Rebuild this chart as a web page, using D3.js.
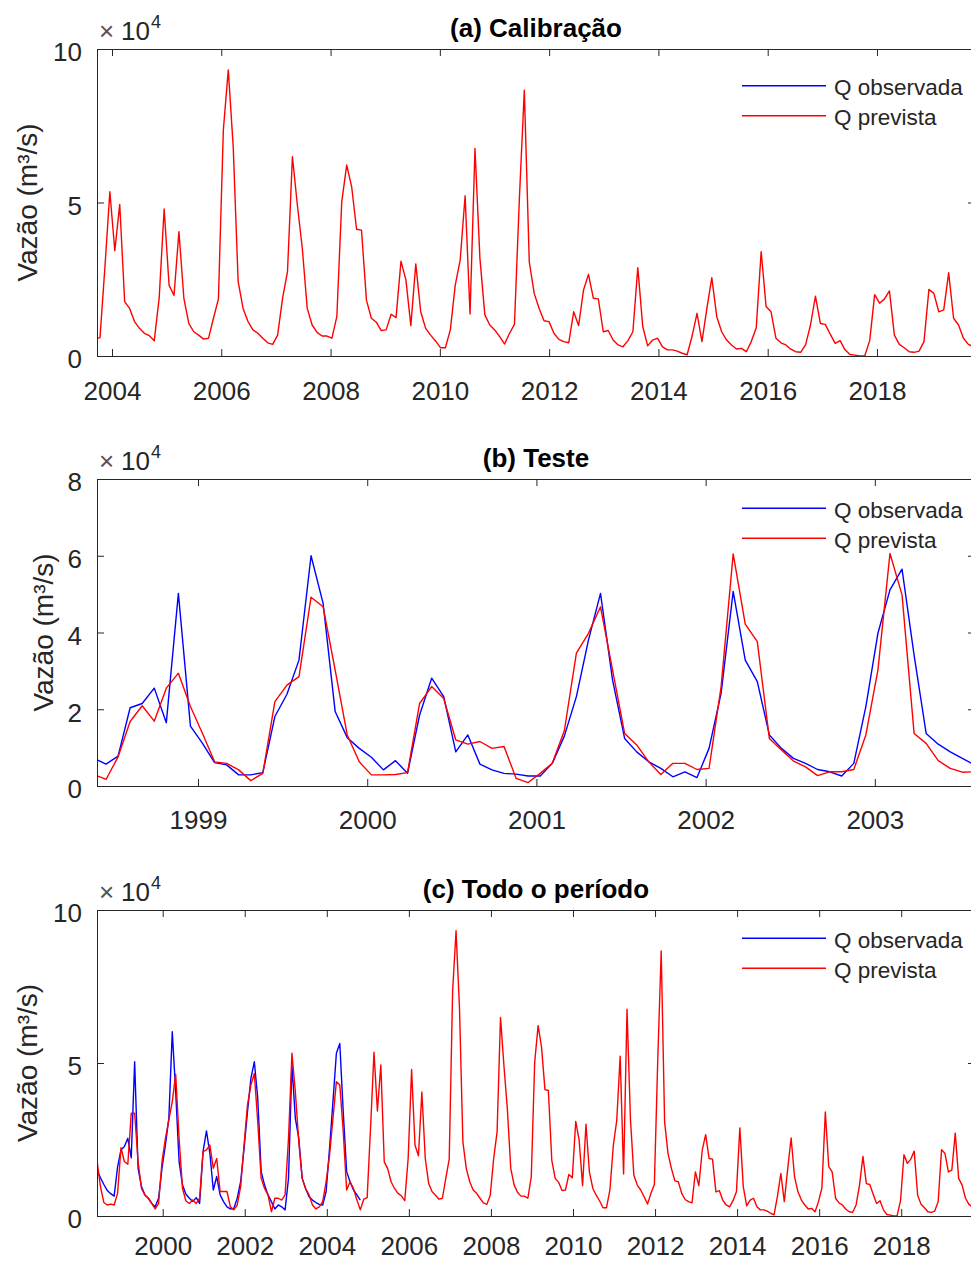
<!DOCTYPE html>
<html>
<head>
<meta charset="utf-8">
<script src="https://cdn.jsdelivr.net/npm/d3@7"></script>
<style>
  html, body { margin: 0; padding: 0; background: #fff; overflow: hidden; }
  svg { display: block; }
</style>
</head>
<body>
<script>
// values in units of 10^4 m3/s

// (a) calibration, predicted flow (observed is hidden under it)
const calibPred = [
  0.55, 0.6, 2.9, 5.35, 3.43, 4.94, 1.77, 1.55, 1.12, 0.9,
  0.74, 0.66, 0.5, 1.9, 4.79, 2.31, 1.97, 4.05, 1.88, 1.06,
  0.79, 0.68, 0.55, 0.58, 1.23, 1.86, 7.36, 9.32, 6.82, 2.42,
  1.55, 1.12, 0.85, 0.74, 0.58, 0.43, 0.38, 0.68, 1.88, 2.75,
  6.49, 4.92, 3.51, 1.55, 1.01, 0.77, 0.65, 0.65, 0.58, 1.28,
  5.03, 6.22, 5.52, 4.13, 4.1, 1.82, 1.23, 1.1, 0.83, 0.85,
  1.36,
  1.25, 3.09, 2.48, 0.99, 3.0, 1.44, 0.9, 0.68, 0.49, 0.27,
  0.27, 0.85, 2.31, 3.13, 5.22, 1.37, 6.76, 3.18, 1.34, 1.01,
  0.85, 0.63, 0.39, 0.74, 1.03, 5.14, 8.66, 3.07, 2.04, 1.55,
  1.15, 1.12, 0.74, 0.54, 0.47, 0.43, 1.44, 0.99, 2.15, 2.66,
  1.88, 1.86, 0.79, 0.83, 0.52, 0.36, 0.3, 0.5, 0.79, 2.88,
  0.96, 0.33, 0.52, 0.58, 0.3, 0.2, 0.2, 0.16,
  0.09, 0.04, 0.65,
  1.39, 0.47, 1.55, 2.55, 1.28, 0.79, 0.52, 0.36, 0.23, 0.25,
  0.14, 0.47, 0.92, 3.4, 1.61, 1.44, 0.58, 0.43, 0.36, 0.22,
  0.14, 0.12, 0.36, 1.01, 1.95, 1.06, 1.03, 0.71, 0.41, 0.5,
  0.2, 0.05, 0.03, 0.0, 0.01, 0.5, 2.0, 1.72, 1.86, 2.12,
  0.68, 0.38, 0.27, 0.14, 0.12, 0.16, 0.47, 2.17, 2.04, 1.44,
  1.5, 2.71, 1.23, 1.01, 0.58, 0.38, 0.3
];

// (b) test period
const testObs = [
  0.72, 0.57, 0.78, 2.04, 2.15, 2.55, 1.65, 5.02, 1.56, 1.11,
  0.61, 0.55, 0.29, 0.29, 0.35, 1.81, 2.39, 3.28, 6.0, 4.76,
  1.94, 1.26, 0.98, 0.75, 0.42, 0.66, 0.33, 1.85, 2.81, 2.33,
  0.89, 1.33, 0.57, 0.42, 0.33, 0.31, 0.26, 0.26, 0.59, 1.3,
  2.33, 3.8, 5.02, 2.76, 1.24, 0.89, 0.63, 0.46, 0.24, 0.37,
  0.22, 0.98, 2.42, 5.07, 3.28, 2.72, 1.33, 0.98, 0.72, 0.59,
  0.43, 0.37, 0.26, 0.59, 2.07, 3.98, 5.11, 5.65, 3.41, 1.37,
  1.09, 0.89, 0.72, 0.55
];
const testPred = [
  0.3, 0.17, 0.76, 1.68, 2.09, 1.69, 2.55, 2.94, 2.07, 1.37,
  0.63, 0.59, 0.42, 0.14, 0.33, 2.2, 2.63, 2.85, 4.92, 4.67,
  3.02, 1.33, 0.63, 0.29, 0.29, 0.3, 0.35, 2.15, 2.59, 2.28,
  1.2, 1.09, 1.16, 0.98, 1.03, 0.2, 0.09, 0.33, 0.59, 1.44,
  3.46, 3.98, 4.67, 3.02, 1.37, 1.07, 0.63, 0.3, 0.59, 0.59,
  0.43, 0.46, 2.59, 6.05, 4.22, 3.76, 1.24, 0.94, 0.65, 0.5,
  0.27, 0.37, 0.37, 0.43, 1.33, 3.02, 6.06, 4.98, 1.37, 1.11,
  0.66, 0.46, 0.36, 0.37
];

// (c) whole period: first part with observations, then the calibration run
const fullObs = [
  1.5, 1.25, 1.03, 0.83, 0.73, 0.65, 1.6, 2.16, 2.27, 2.54,
  1.9, 5.04, 1.56, 0.96, 0.69, 0.58, 0.41, 0.3, 0.58, 1.56,
  2.32, 3.19, 6.02, 4.06, 1.78, 1.01, 0.71, 0.58, 0.47, 0.6,
  0.41, 2.1, 2.78, 2.05, 0.85, 1.29, 0.69, 0.47, 0.3, 0.23,
  0.25, 0.58, 1.12, 2.21, 3.41, 4.5, 5.04, 3.85, 1.45, 1.01,
  0.69, 0.47, 0.23, 0.36, 0.3, 0.2, 1.23, 4.93, 3.19, 2.54,
  1.23, 0.9, 0.63, 0.52, 0.44, 0.38, 0.36, 0.8, 2.21, 3.74,
  5.32, 5.64, 3.41, 1.45, 1.12, 0.85, 0.69, 0.52
];
const fullTestPred = [
  1.8, 0.96, 0.44, 0.36, 0.39, 0.36, 0.74, 2.23, 1.78, 1.69,
  3.36, 3.36, 1.78, 0.9, 0.69, 0.58, 0.41, 0.23, 0.41, 1.78,
  2.54, 3.14, 3.74, 4.63, 2.54, 0.9, 0.49, 0.41, 0.52, 0.41,
  0.58, 2.1, 2.16, 2.32, 1.56, 1.88, 0.8, 0.8, 0.8, 0.3,
  0.2, 0.36, 0.96, 2.32, 3.63, 4.28, 4.66, 3.08, 1.23, 0.9,
  0.69, 0.14, 0.58, 0.58, 0.52, 0.69, 2.54, 5.32, 4.06, 2.43,
  1.23, 0.9, 0.69, 0.36, 0.23, 0.3, 0.47, 1.12, 1.99, 3.19,
  4.39, 4.28, 2.76, 0.85, 1.12, 0.9, 0.52, 0.2
];
const fullPred = fullTestPred.concat(calibPred);

// tick labels
const ticksA = [2004, 2006, 2008, 2010, 2012, 2014, 2016, 2018];
const ticksB = [1999, 2000, 2001, 2002, 2003];
const ticksC = [2000, 2002, 2004, 2006, 2008, 2010, 2012, 2014, 2016, 2018];
const legendNames = ["Q observada", "Q prevista"];

const W = 971, H = 1262;
const left = 97, right = 975;
const ink = "#262626";
const blue = "#0000ff", red = "#ff0000";

const svg = d3.select("body").append("svg")
    .attr("width", W).attr("height", H)
    .attr("font-family", '"Liberation Sans", Arial, Helvetica, sans-serif');

const panels = [
  {id: "a", title: "(a) Calibração", top: 49, bottom: 356,
   xDomain: [2003.7255, 2019.794], xTicks: ticksA, yMax: 10, yTicks: [0, 5, 10],
   labelX: 37, legendTop: 36.7, xPad: 26,
   series: [{values: calibPred, start: 2003.69, step: 0.0903, color: red}]},
  {id: "b", title: "(b) Teste", top: 479, bottom: 786,
   xDomain: [1998.403, 2003.592], xTicks: ticksB, yMax: 8, yTicks: [0, 2, 4, 6, 8],
   labelX: 53, legendTop: 29.3, xPad: 25,
   series: [{values: testObs, start: 1998.385, step: 0.07128, color: blue},
            {values: testPred, start: 1998.385, step: 0.07128, color: red}]},
  {id: "c", title: "(c) Todo o período", top: 910, bottom: 1216,
   xDomain: [1998.399, 2019.798], xTicks: ticksC, yMax: 10, yTicks: [0, 5, 10],
   labelX: 37, legendTop: 28.3, xPad: 21,
   series: [{values: fullObs, start: 1998.40, step: 1 / 12, color: blue},
            {values: fullPred, start: 1998.40, step: 1 / 12, color: red}]}
];

function styleAxis(sel) {
  sel.select(".domain").remove();
  sel.selectAll(".tick line").attr("stroke", ink).attr("stroke-width", 1);
  sel.selectAll(".tick text").attr("fill", ink).attr("font-size", 26);
}

panels.forEach(p => {
  const x = d3.scaleLinear().domain(p.xDomain).range([left, right]);
  const y = d3.scaleLinear().domain([0, p.yMax]).range([p.bottom, p.top]);
  const g = svg.append("g");

  g.append("clipPath").attr("id", "clip-" + p.id)
    .append("rect")
      .attr("x", left).attr("y", p.top)
      .attr("width", right - left).attr("height", p.bottom - p.top);

  const plot = g.append("g").attr("clip-path", `url(#clip-${p.id})`);
  p.series.forEach(s => {
    const line = d3.line()
        .x((d, i) => x(s.start + i * s.step))
        .y(d => y(d));
    plot.append("path")
        .datum(s.values)
        .attr("fill", "none")
        .attr("stroke", s.color)
        .attr("stroke-width", 1.4)
        .attr("stroke-linejoin", "round")
        .attr("d", line);
  });

  // axes with inward ticks on all four sides
  g.append("g").attr("transform", `translate(0,${p.bottom})`)
      .call(d3.axisBottom(x).tickValues(p.xTicks).tickFormat(d3.format("d"))
              .tickSizeInner(-7).tickSizeOuter(0).tickPadding(p.xPad))
      .call(styleAxis);
  g.append("g").attr("transform", `translate(0,${p.top})`)
      .call(d3.axisTop(x).tickValues(p.xTicks).tickFormat("")
              .tickSizeInner(-7).tickSizeOuter(0))
      .call(styleAxis);
  g.append("g").attr("transform", `translate(${left},0)`)
      .call(d3.axisLeft(y).tickValues(p.yTicks).tickFormat(d3.format("d"))
              .tickSizeInner(-7).tickSizeOuter(0).tickPadding(15))
      .call(styleAxis)
      .call(a => a.selectAll(".tick text").attr("dy", "0.46em"));
  g.append("g").attr("transform", `translate(${right},0)`)
      .call(d3.axisRight(y).tickValues(p.yTicks).tickFormat("")
              .tickSizeInner(-7).tickSizeOuter(0))
      .call(styleAxis);

  g.append("rect")
      .attr("x", left + 0.5).attr("y", p.top + 0.5)
      .attr("width", right - left).attr("height", p.bottom - p.top)
      .attr("fill", "none").attr("stroke", ink).attr("stroke-width", 1);

  // exponent label
  const ex = g.append("text").attr("y", p.top - 9).attr("fill", ink).attr("font-size", 26);
  ex.append("tspan").attr("x", left + 2).attr("fill", "#555").text("×");
  ex.append("tspan").attr("x", left + 24).text("10");
  ex.append("tspan").attr("x", left + 54).attr("dy", -12).attr("font-size", 18).text("4");

  // title
  g.append("text")
      .attr("x", (left + right) / 2).attr("y", p.top - 12)
      .attr("text-anchor", "middle")
      .attr("font-size", 26).attr("font-weight", "bold").attr("fill", "#000")
      .text(p.title);

  // y label
  g.append("text")
      .attr("transform", `translate(${p.labelX},${(p.top + p.bottom) / 2}) rotate(-90)`)
      .attr("text-anchor", "middle")
      .attr("font-size", 28).attr("fill", ink)
      .text("Vazão (m³/s)");

  // legend, no box
  const lg = g.append("g").attr("transform", `translate(742,${p.top + p.legendTop})`);
  [blue, red].forEach((c, i) => {
    lg.append("line")
        .attr("x1", 0).attr("x2", 84)
        .attr("y1", i * 30).attr("y2", i * 30)
        .attr("stroke", c).attr("stroke-width", 1.4);
    lg.append("text")
        .attr("x", 92).attr("y", i * 30 + 9.5)
        .attr("font-size", 22.5).attr("fill", ink)
        .text(legendNames[i]);
  });
});
</script>
</body>
</html>
